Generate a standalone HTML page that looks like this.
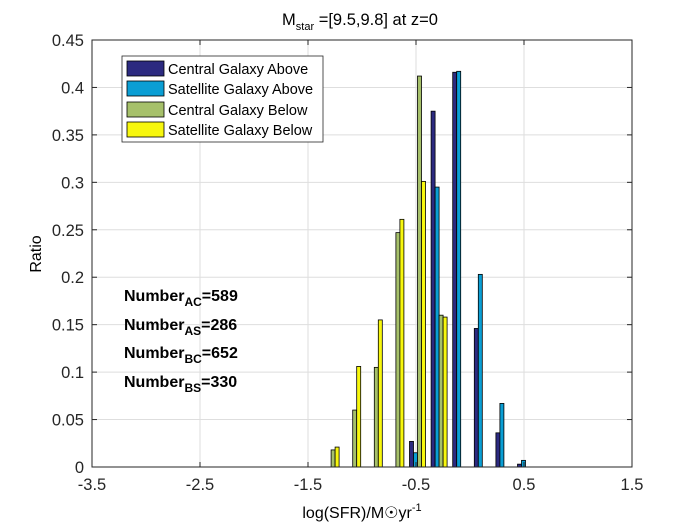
<!DOCTYPE html>
<html><head><meta charset="utf-8"><style>
body{margin:0;background:#fff;font-family:"Liberation Sans",sans-serif}
svg text{font-family:"Liberation Sans",sans-serif}
</style></head><body>
<svg id="c" width="700" height="525" xmlns="http://www.w3.org/2000/svg">
<rect x="0" y="0" width="700" height="525" fill="#fff"/>
<g id="grid"></g><g id="bars"></g><g id="axes"></g>
<text x="360" y="25" font-size="16.5" text-anchor="middle">M<tspan font-size="11" dy="5">star</tspan><tspan dy="-5"> =[9.5,9.8] at z=0</tspan></text>
<text x="362" y="518" font-size="16" text-anchor="middle">log(SFR)/M☉yr<tspan font-size="11" dy="-7">-1</tspan></text>
<text transform="translate(41,254) rotate(-90)" font-size="16" text-anchor="middle">Ratio</text>
<g font-size="16" font-weight="bold">
<text x="124" y="301">Number<tspan font-size="12" dy="5">AC</tspan><tspan dy="-5">=589</tspan></text>
<text x="124" y="330">Number<tspan font-size="12" dy="5">AS</tspan><tspan dy="-5">=286</tspan></text>
<text x="124" y="358">Number<tspan font-size="12" dy="5">BC</tspan><tspan dy="-5">=652</tspan></text>
<text x="124" y="387">Number<tspan font-size="12" dy="5">BS</tspan><tspan dy="-5">=330</tspan></text>
</g>
<g>
<rect x="122" y="56" width="201" height="86" fill="#fff" stroke="#262626" stroke-width="0.8"/>
<rect x="127" y="61" width="37" height="15" fill="#2c2a80" stroke="#000" stroke-width="0.8"/>
<text x="168" y="74" font-size="14.5">Central Galaxy Above</text>
<rect x="127" y="81" width="37" height="15" fill="#0a9ed4" stroke="#000" stroke-width="0.8"/>
<text x="168" y="94" font-size="14.5">Satellite Galaxy Above</text>
<rect x="127" y="102" width="37" height="15" fill="#a6c06a" stroke="#000" stroke-width="0.8"/>
<text x="168" y="115" font-size="14.5">Central Galaxy Below</text>
<rect x="127" y="122" width="37" height="15" fill="#f7f70e" stroke="#000" stroke-width="0.8"/>
<text x="168" y="135" font-size="14.5">Satellite Galaxy Below</text>
</g>
</svg>
<script>
const bins=[-1.3,-1.1,-0.9,-0.7,-0.5,-0.3,-0.1,0.1,0.3,0.5];
const centralAbove=[0,0,0,0,0.027,0.375,0.416,0.146,0.036,0.003];
const satelliteAbove=[0,0,0,0,0.015,0.295,0.417,0.203,0.067,0.007];
const centralBelow=[0.018,0.06,0.105,0.247,0.412,0.16,0,0,0,0];
const satelliteBelow=[0.021,0.106,0.155,0.261,0.301,0.158,0,0,0,0];
const xTicks=[-3.5,-2.5,-1.5,-0.5,0.5,1.5];
const yTicks=[0,0.05,0.1,0.15,0.2,0.25,0.3,0.35,0.4,0.45];
const L=92,R=632,T=40,B=467,NS="http://www.w3.org/2000/svg";
const X=v=>L+(v+3.5)/5*(R-L), Y=v=>B-v/0.45*(B-T);
function mk(p,tag,a){const e=document.createElementNS(NS,tag);for(const k in a)e.setAttribute(k,a[k]);document.getElementById(p).appendChild(e);return e;}
xTicks.forEach(t=>{const l=mk('grid','line',{x1:X(t),x2:X(t),y1:T,y2:B,stroke:'#dedede'});


mk('axes','line',{x1:X(t),x2:X(t),y1:B,y2:B-5,stroke:'#262626'});
mk('axes','line',{x1:X(t),x2:X(t),y1:T,y2:T+5,stroke:'#262626'});
const tx=mk('axes','text',{x:X(t),y:B+23,'font-size':16.5,'text-anchor':'middle',fill:'#262626'});tx.textContent=t;

});
yTicks.forEach(t=>{const l=mk('grid','line',{x1:L,x2:R,y1:Y(t),y2:Y(t),stroke:'#dedede'});


mk('axes','line',{x1:L,x2:L+5,y1:Y(t),y2:Y(t),stroke:'#262626'});
mk('axes','line',{x1:R,x2:R-5,y1:Y(t),y2:Y(t),stroke:'#262626'});
const tx=mk('axes','text',{x:L-8,y:Y(t)+6,'font-size':16.5,'text-anchor':'end',fill:'#262626'});tx.textContent=t;

});
const r=mk('axes','rect',{x:L,y:T,width:R-L,height:B-T,fill:'none',stroke:'#262626'});


const series=[[centralAbove,'#2c2a80','central-above'],[satelliteAbove,'#0a9ed4','satellite-above'],[centralBelow,'#a6c06a','central-below'],[satelliteBelow,'#f7f70e','satellite-below']];
const bw=4;
series.forEach((s,si)=>{bins.forEach((b,i)=>{const v=s[0][i];if(v<=0)return;
const x=X(b)-8+1.5+si*bw;
const e=mk('bars','rect',{x:x,y:Y(v),width:bw,height:B-Y(v),fill:s[1],stroke:'#000','stroke-width':0.8});

});});
</script>
</body></html>
